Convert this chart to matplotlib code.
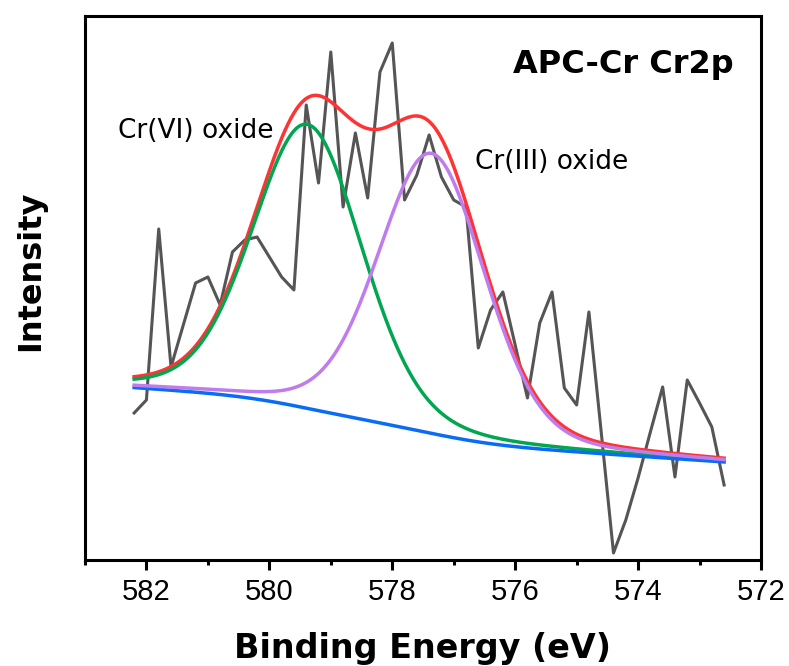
import numpy as np
import matplotlib
matplotlib.use("Agg")
import matplotlib.pyplot as plt
from matplotlib.ticker import MultipleLocator

plt.rcParams['font.family'] = ['Liberation Sans', 'DejaVu Sans']

# измеренный спектр Cr2p (0.2 эВ шаг)
energy = np.round(np.arange(582.2, 572.59, -0.2), 1)
counts = [147, 160, 331, 193, 235, 277, 283, 255, 308, 320, 323, 303,
          283, 270, 455, 377, 508, 353, 427, 362, 488, 517, 360, 385,
          425, 383, 360, 353, 212, 250, 268, 215, 162, 237, 268, 172,
          155, 248, 128, 7, 40, 82, 128, 173, 83, 180, 157, 133, 75]

# фон: линейная часть + ступенька Ширли
BG_LOW = 98.0      # уровень фона на низкоэнергетическом краю
BG_SLOPE = 4.0     # наклон, отсчёты/эВ
BG_STEP = 36.0     # высота ступеньки Ширли

# параметры пиков: центр, амплитуда, FWHM, доля Лоренца
peak_names = ['Cr(VI) oxide', 'Cr(III) oxide']
peak_center = [579.38, 577.36]
peak_height = [284, 280]
peak_fwhm = [2.1, 2.05]
peak_eta = [0.2, 0.2]


def pseudo_voigt(x, c, h, w, eta):
    g = np.exp(-4 * np.log(2) * ((x - c) / w) ** 2)
    l = 1.0 / (1.0 + 4 * ((x - c) / w) ** 2)
    return h * (eta * l + (1 - eta) * g)


# сетка от низких энергий к высоким
x = np.linspace(energy[-1], energy[0], 600)
comp = [pseudo_voigt(x, c, h, w, e) for c, h, w, e in
        zip(peak_center, peak_height, peak_fwhm, peak_eta)]
total = comp[0] + comp[1]
cum = np.concatenate([[0], np.cumsum((total[1:] + total[:-1]) / 2 * np.diff(x))])
cum /= cum[-1]
bg = BG_LOW + BG_SLOPE * (x - x[0]) + BG_STEP * cum

fig = plt.figure(figsize=(7.89, 6.66), dpi=100)
ax = fig.add_axes([0.1077, 0.1592, 0.8568, 0.8168])

ax.plot(energy, counts, color='#555555', lw=2.2, zorder=2)
ax.plot(x, bg + total, color='#ff3333', lw=2.5, zorder=3)
ax.plot(x, bg + comp[0], color='#00a650', lw=2.5, zorder=3)
ax.plot(x, bg, color='#0a6cf5', lw=2.5, zorder=3)
ax.plot(x, bg + comp[1], color='#c07cec', lw=2.5, zorder=4)

ax.set_xlim(583, 572)
ax.set_ylim(0, 544)
ax.xaxis.set_major_locator(MultipleLocator(2))
ax.xaxis.set_minor_locator(MultipleLocator(1))
ax.set_yticks([])
ax.tick_params(axis='x', which='major', direction='out', length=7, width=2.2,
               labelsize=21, pad=6)
ax.tick_params(axis='x', which='minor', direction='out', length=3.5, width=2.2)
for s in ax.spines.values():
    s.set_linewidth(2.2)

ax.set_xlabel('Binding Energy (eV)', fontsize=24, fontweight='bold',
              family='DejaVu Sans', va='center')
ax.xaxis.set_label_coords(0.5, -0.162)
ax.set_ylabel('Intensity', fontsize=23, fontweight='bold',
              family='DejaVu Sans', va='center')
ax.yaxis.set_label_coords(-0.081, 0.531)

ax.text(582.47, 422, peak_names[0], fontsize=19, family='DejaVu Sans',
        ha='left', va='baseline')
ax.text(576.65, 391, peak_names[1], fontsize=19, family='DejaVu Sans',
        ha='left', va='baseline')
ax.text(572.45, 487, 'APC-Cr Cr2p', fontsize=23, fontweight='bold',
        family='DejaVu Sans', ha='right', va='baseline')

fig.savefig('out.png', dpi=100)
